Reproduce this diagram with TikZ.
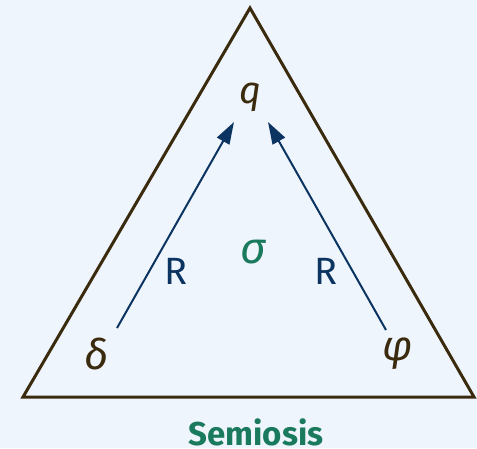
\documentclass[tikz,border=0pt]{standalone}
\usepackage{fontspec}
\setmainfont{Fira Sans}
\usetikzlibrary{arrows.meta}
\definecolor{bgc}{HTML}{EFF5FC}
\definecolor{brn}{HTML}{3A2A0E}
\definecolor{nav}{HTML}{0C3461}
\definecolor{teal}{HTML}{1A7A5E}
\newcommand\lightser{\fontseries{l}\selectfont}
\begin{document}
\begin{tikzpicture}[x=1pt,y=-1pt,
  lbl/.style={text=brn,font=\fontsize{42}{46}\selectfont\itshape,inner sep=0pt},
  rel/.style={draw=nav,line width=2pt,-{Triangle[length=22pt,width=14pt]}},
  rl/.style={text=nav,font=\fontsize{38}{42}\selectfont\lightser,inner sep=0pt}]
\fill[bgc] (0,0) rectangle (477,448);
\useasboundingbox (0,0) rectangle (477,448);
\coordinate (top) at (250,8);
\coordinate (bl) at (23,397);
\coordinate (br) at (474,397);
\draw[brn,line width=3pt,line join=miter] (top) -- (bl) -- (br) -- cycle;
\node[lbl,font=\fontsize{38}{42}\selectfont\itshape] (q) at (250,97) {q};
\node[lbl] (d) at (97,354) {δ};
\node[lbl] (f) at (398,354) {φ};
\node[text=teal,font=\fontsize{44}{48}\selectfont\itshape,inner sep=0pt] (s) at (253,252) {σ};
\coordinate (a1) at (117,328);
\coordinate (a2) at (386,330);
\coordinate (t1) at (234,122);
\coordinate (t2) at (268,122);
\draw[rel] (a1) -- (t1);
\draw[rel] (a2) -- (t2);
\node[rl] (r1) at (176,271) {R};
\node[rl] (r2) at (326,271) {R};
\node[text=teal,font=\fontsize{33}{36}\selectfont\bfseries,inner sep=0pt] (lab) at (256,432) {Semiosis};
\end{tikzpicture}
\end{document}
